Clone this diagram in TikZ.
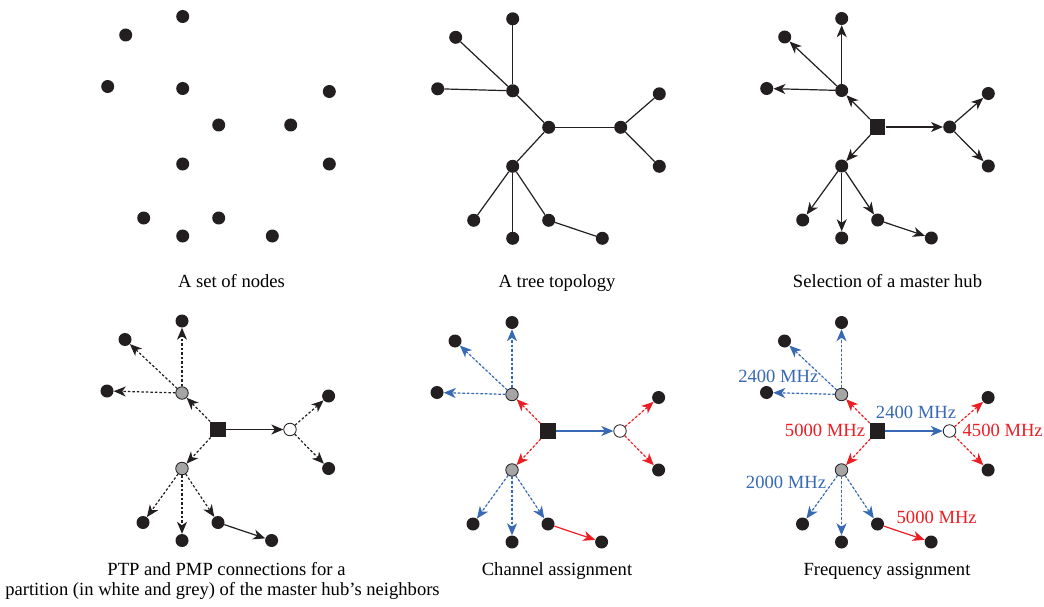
\documentclass[tikz,border=0pt]{standalone}
\usepackage{fontspec}
\setmainfont{Liberation Serif}
\usetikzlibrary{arrows.meta}
\definecolor{nodeblack}{RGB}{35,31,32}
\definecolor{linkblue}{RGB}{55,105,180}
\definecolor{linkred}{RGB}{236,30,36}
\definecolor{hubgrey}{RGB}{165,165,165}
\tikzset{
  dot/.style={circle,fill=nodeblack,inner sep=0pt,minimum size=13pt},
  greydot/.style={circle,draw=nodeblack,fill=hubgrey,line width=0.8pt,inner sep=0pt,minimum size=12.5pt},
  whitedot/.style={circle,draw=nodeblack,fill=white,line width=0.8pt,inner sep=0pt,minimum size=12.5pt},
  hubsq/.style={rectangle,fill=nodeblack,inner sep=0pt,minimum size=15.5pt},
  link/.style={line width=1.2pt,draw=nodeblack},
  arr/.style={-{Stealth[length=12pt,width=10pt,inset=3.5pt]}},
  dotlink/.style={dash pattern=on 2.5pt off 2pt},
  bluelink/.style={draw=linkblue,fill=linkblue},
  redlink/.style={draw=linkred,fill=linkred},
  txt/.style={inner sep=0pt,anchor=base,font=\fontsize{18.6}{20}\selectfont},
}
\newcommand\treenodes[6]{%
  \begin{scope}[shift={(#2,#3)}]
    \node[#4] (#1h) at (0,0) {};
    \node[#5] (#1u) at (-36,-36.5) {};
    \node[#5] (#1l) at (-36,39) {};
    \node[#6] (#1w) at (72,0) {};
    \node[dot] (#1a) at (-36,-108.5) {};
    \node[dot] (#1b) at (-93,-90) {};
    \node[dot] (#1c) at (-111,-38.5) {};
    \node[dot] (#1r) at (110.6,-33.5) {};
    \node[dot] (#1s) at (110.6,39) {};
    \node[dot] (#1d) at (-75,93) {};
    \node[dot] (#1e) at (-36,111) {};
    \node[dot] (#1f) at (0,93) {};
    \node[dot] (#1g) at (53.6,111) {};
  \end{scope}}
\begin{document}
\begin{tikzpicture}[x=1pt,y=-1pt]
\useasboundingbox[fill=white] (0,0) rectangle (1044,607);
% panel 1
\treenodes{p1}{218.7}{125}{dot}{dot}{dot}
% panel 2
\treenodes{p2}{548.7}{127.3}{dot}{dot}{dot}
\foreach \s/\t in {h/u,h/l,h/w,u/a,u/b,u/c,w/r,w/s,l/d,l/e,l/f,f/g}
  \draw[link] (p2\s) -- (p2\t);
% panel 3
\treenodes{p3}{877.7}{127}{hubsq}{dot}{dot}
\foreach \s/\t in {h/u,h/l,h/w,u/a,u/b,u/c,w/r,w/s,l/d,l/e,l/f,f/g}
  \draw[link,arr] (p3\s) -- (p3\t);
% panel 4
\treenodes{p4}{218}{429.5}{hubsq}{greydot}{whitedot}
\foreach \s/\t in {h/u,h/l,u/a,u/b,u/c,w/r,w/s,l/d,l/e,l/f}
  \draw[link,arr,dotlink] (p4\s) -- (p4\t);
\draw[link,arr] (p4h) -- (p4w);
\draw[link,arr] (p4f) -- (p4g);
% panel 5
\treenodes{p5}{548}{431}{hubsq}{greydot}{whitedot}
\foreach \s/\t in {u/a,u/b,u/c,l/d,l/e,l/f}
  \draw[link,arr,dotlink,bluelink] (p5\s) -- (p5\t);
\foreach \s/\t in {h/u,h/l,w/r,w/s}
  \draw[link,arr,dotlink,redlink] (p5\s) -- (p5\t);
\draw[link,arr,bluelink] (p5h) -- (p5w);
\draw[link,arr,redlink] (p5f) -- (p5g);
% panel 6
\treenodes{p6}{877.5}{431}{hubsq}{greydot}{whitedot}
\foreach \s/\t in {u/a,u/b,u/c,l/d,l/e,l/f}
  \draw[link,arr,dotlink,bluelink] (p6\s) -- (p6\t);
\foreach \s/\t in {h/u,h/l,w/r,w/s}
  \draw[link,arr,dotlink,redlink] (p6\s) -- (p6\t);
\draw[link,arr,bluelink] (p6h) -- (p6w);
\draw[link,arr,redlink] (p6f) -- (p6g);
\node[txt,text=linkblue] (lbA) at (778.3,382) {2400 MHz};
\node[txt,text=linkblue] (lbB) at (916,418) {2400 MHz};
\node[txt,text=linkred] (lbC) at (825,436) {5000 MHz};
\node[txt,text=linkred] (lbD) at (1002.7,436) {4500 MHz};
\node[txt,text=linkblue] (lbE) at (786,488) {2000 MHz};
\node[txt,text=linkred] (lbF) at (936.7,523.3) {5000 MHz};
% captions
\node[txt] (cap1) at (231.5,287) {A set of nodes};
\node[txt] (cap2) at (557,287) {A tree topology};
\node[txt] (cap3) at (887.5,287) {Selection of a master hub};
\node[txt] (cap4a) at (226.5,575.7) {PTP and PMP connections for a};
\node[txt] (cap4b) at (222.5,595.7) {partition (in white and grey) of the master hub’s neighbors};
\node[txt] (cap5) at (557,575.7) {Channel assignment};
\node[txt] (cap6) at (887,575.7) {Frequency assignment};
\end{tikzpicture}
\end{document}
